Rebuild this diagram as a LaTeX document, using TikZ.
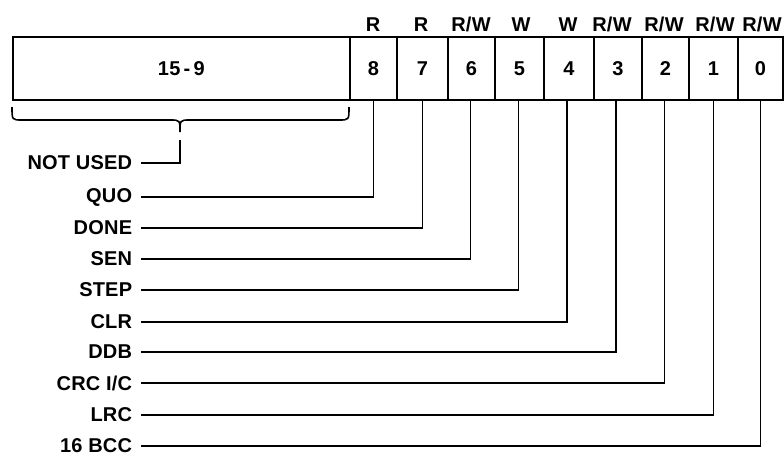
\documentclass[tikz,border=0pt]{standalone}
\usepackage{fontspec}
\setmainfont{Liberation Sans}[LetterSpace=1]
\begin{document}
\begin{tikzpicture}[x=1pt,y=-1pt,line width=1.8pt,
  txt/.style={font=\fontsize{20}{22}\selectfont\bfseries},
  cell/.style={draw,txt,minimum height=63pt,inner sep=0pt,anchor=west},
  acc/.style={txt,inner sep=0pt,anchor=base},
  lbl/.style={txt,inner sep=0pt,anchor=east},
  wire/.style={line width=1.6pt}]
\useasboundingbox (0,0) rectangle (784,458);
% register cells
\node[cell,minimum width=337pt] (bX) at (12,68.5) {15\,-\,9};
\node[cell,minimum width=47pt] (b8) at (349,68.5) {8};
\node[cell,minimum width=51pt] (b7) at (396,68.5) {7};
\node[cell,minimum width=47pt] (b6) at (447,68.5) {6};
\node[cell,minimum width=49pt] (b5) at (494,68.5) {5};
\node[cell,minimum width=50pt] (b4) at (543,68.5) {4};
\node[cell,minimum width=48pt] (b3) at (593,68.5) {3};
\node[cell,minimum width=47pt] (b2) at (641,68.5) {2};
\node[cell,minimum width=49pt] (b1) at (688,68.5) {1};
\node[cell,minimum width=45pt] (b0) at (737,68.5) {0};
% access labels
\node[acc] (a8) at (373,31) {R};
\node[acc] (a7) at (421,31) {R};
\node[acc] (a6) at (471,31) {R/W};
\node[acc] (a5) at (521,31) {W};
\node[acc] (a4) at (568,31) {W};
\node[acc] (a3) at (612,31) {R/W};
\node[acc] (a2) at (664,31) {R/W};
\node[acc] (a1) at (715,31) {R/W};
\node[acc] (a0) at (762,31) {R/W};
% field labels
\node[lbl] (nu) at (133,163) {NOT USED};
\node[lbl] (quo) at (133,197) {QUO};
\node[lbl] (done) at (133,228) {DONE};
\node[lbl] (sen) at (133,259) {SEN};
\node[lbl] (step) at (133,290) {STEP};
\node[lbl] (clr) at (133,322) {CLR};
\node[lbl] (ddb) at (133,352) {DDB};
\node[lbl] (crc) at (133,383) {CRC I/C};
\node[lbl] (lrc) at (133,415) {LRC};
\node[lbl] (bcc) at (133,446) {16 BCC};
% brace
\draw[wire] (12,107) .. controls (12,120) .. (22,120) -- (170,120)
   .. controls (180,120) .. (180,132)
   .. controls (180,120) .. (190,120) -- (339,120)
   .. controls (349,120) .. (349,107);
\coordinate (tip) at (180,140);
\draw[wire] (tip) |- ([xshift=8pt]nu.east);
% connectors
\draw[wire] (b8.south) |- ([xshift=8pt]quo.east);
\draw[wire] (b7.south) |- ([xshift=8pt]done.east);
\draw[wire] ([xshift=-1pt]b6.south) |- ([xshift=8pt]sen.east);
\draw[wire] ([xshift=-1pt]b5.south) |- ([xshift=8pt]step.east);
\draw[wire] ([xshift=-2pt]b4.south) |- ([xshift=8pt]clr.east);
\draw[wire] ([xshift=-2pt]b3.south) |- ([xshift=8pt]ddb.east);
\draw[wire] ([xshift=-1pt]b2.south) |- ([xshift=8pt]crc.east);
\draw[wire] (b1.south) |- ([xshift=8pt]lrc.east);
\draw[wire] (b0.south) |- ([xshift=8pt]bcc.east);
\end{tikzpicture}
\end{document}
